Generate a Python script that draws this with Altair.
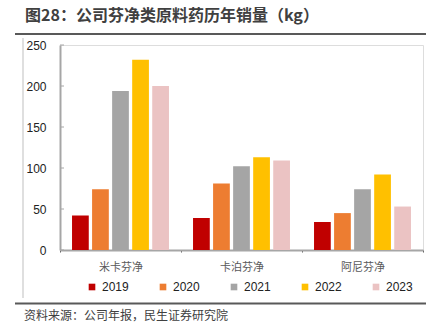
import altair as alt
import pandas as pd

categories = ["米卡芬净", "卡泊芬净", "阿尼芬净"]
years = ["2019", "2020", "2021", "2022", "2023"]
values = {
    "米卡芬净": [42, 74, 194, 232, 200],
    "卡泊芬净": [39, 81, 102, 113, 109],
    "阿尼芬净": [34, 45, 74, 92, 53],
}
colors = ["#C00000", "#ED7D31", "#A5A5A5", "#FFC000", "#EBC3C3"]
y_ticks = [0, 50, 100, 150, 200, 250]
title_text = "图28：公司芬净类原料药历年销量（kg）"
source_text = "资料来源：公司年报，民生证券研究院"

rows = []
for c in categories:
    for y, v in zip(years, values[c]):
        rows.append({"cat": c, "year": y, "value": v})
df = pd.DataFrame(rows)

FONT = "Liberation Sans, Noto Sans CJK SC"
CJK = "Noto Sans CJK SC"

bars = alt.Chart(df).mark_bar().encode(
    x=alt.X("cat:N", sort=categories, title=None,
            scale=alt.Scale(paddingInner=0, paddingOuter=0),
            axis=alt.Axis(labelAngle=0, labelFont=CJK, labelFontSize=11,
                          labelColor="#595959", labelPadding=9,
                          domainColor="#A6A6A6", domainWidth=2,
                          tickBand="extent", tickSize=2, tickColor="#595959",
                          tickWidth=1)),
    xOffset=alt.XOffset("year:N", sort=years,
                        scale=alt.Scale(paddingInner=0.165, paddingOuter=0.6)),
    y=alt.Y("value:Q", title=None,
            scale=alt.Scale(domain=[0, 250], nice=False),
            axis=alt.Axis(values=y_ticks, grid=False, ticks=False,
                          labelFont=FONT, labelFontSize=12, labelColor="#222222",
                          labelPadding=14, domainColor="#A6A6A6", domainWidth=2)),
    color=alt.Color("year:N", sort=years, title=None,
                    scale=alt.Scale(domain=years, range=colors),
                    legend=alt.Legend(orient="none", direction="horizontal",
                                      legendX=26, legendY=236,
                                      symbolType="square", symbolSize=44,
                                      symbolStrokeWidth=0,
                                      labelFont=FONT, labelFontSize=12,
                                      labelColor="#222222", labelOffset=4,
                                      columnPadding=28)),
)

tick_df = pd.DataFrame({"t": y_ticks})
yticks = alt.Chart(tick_df).mark_rule(color="#A6A6A6", strokeWidth=1).encode(
    y="t:Q", x=alt.value(0), x2=alt.value(4)
)

one = pd.DataFrame({"a": [0]})
title = alt.Chart(one).mark_text(
    align="left", baseline="middle", font=CJK, fontSize=16, fontWeight="bold",
    color="#404040"
).encode(x=alt.value(-35), y=alt.value(-29), text=alt.value(title_text))

source = alt.Chart(one).mark_text(
    align="left", baseline="middle", font=CJK, fontSize=12, color="#404040"
).encode(x=alt.value(-36), y=alt.value(271), text=alt.value(source_text))

top_line = alt.Chart(one).mark_rule(color="#595959", strokeWidth=2).encode(
    x=alt.value(-45), x2=alt.value(366), y=alt.value(-11))
bottom_line = alt.Chart(one).mark_rule(color="#595959", strokeWidth=2).encode(
    x=alt.value(-45), x2=alt.value(366), y=alt.value(258.5))
left_line = alt.Chart(one).mark_rule(color="#BFBFBF", strokeWidth=1).encode(
    x=alt.value(-37), y=alt.value(-7), y2=alt.value(253))

chart = alt.layer(bars, yticks, title, source, top_line, bottom_line, left_line).properties(
    width=363, height=205,
    autosize=alt.AutoSizeParams(type="none"),
    padding={"left": 60, "top": 45, "right": 17, "bottom": 84},
).configure_view(stroke=None).configure(background="white")

chart.save("out.html", embed_options={"renderer": "svg", "actions": False})
